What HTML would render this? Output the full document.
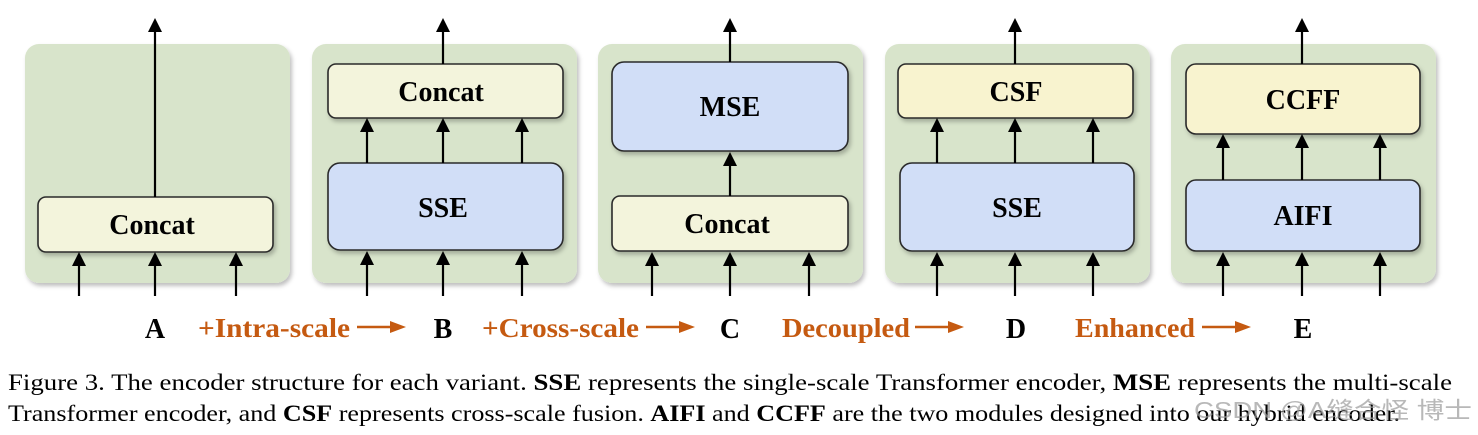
<!DOCTYPE html>
<html><head><meta charset="utf-8"><style>
html,body{margin:0;padding:0;background:#fff;width:1478px;height:435px;overflow:hidden}
svg{display:block}
.bt{font-family:"Liberation Serif",serif;font-weight:bold;font-size:28px;fill:#000;text-anchor:middle}
.or{font-family:"Liberation Serif",serif;font-weight:bold;font-size:27px;fill:#c55a11}
.cap{font-family:"Liberation Serif",serif;font-size:23px;fill:#000}
</style></head><body>
<svg width="1478" height="435" viewBox="0 0 1478 435" xmlns="http://www.w3.org/2000/svg">
<defs>
<filter id="sh" x="-10%" y="-10%" width="120%" height="120%"><feDropShadow dx="2" dy="3" stdDeviation="2" flood-color="#000" flood-opacity="0.25"/></filter>
</defs>
<g fill="#d8e4cb" filter="url(#sh)">
<rect x="25" y="44" width="265" height="239" rx="14"/>
<rect x="312" y="44" width="265" height="239" rx="14"/>
<rect x="598" y="44" width="265" height="239" rx="14"/>
<rect x="885" y="44" width="265" height="239" rx="14"/>
<rect x="1171" y="44" width="265" height="239" rx="14"/>
</g>
<g stroke="#2a2a2a" stroke-width="1.6" filter="url(#sh)">
<rect x="38" y="197" width="235" height="55" rx="8" fill="#f3f4dc"/>
<rect x="328" y="64" width="235" height="54" rx="8" fill="#f3f4dc"/>
<rect x="328" y="163" width="235" height="87" rx="12" fill="#d1def7"/>
<rect x="612" y="62" width="236" height="89" rx="12" fill="#d1def7"/>
<rect x="612" y="196" width="236" height="55" rx="8" fill="#f3f4dc"/>
<rect x="898" y="64" width="235" height="54" rx="8" fill="#f8f3cf"/>
<rect x="900" y="163" width="234" height="88" rx="12" fill="#d1def7"/>
<rect x="1186" y="64" width="234" height="70" rx="10" fill="#f8f3cf"/>
<rect x="1186" y="180" width="234" height="71" rx="10" fill="#d1def7"/>
</g>
<g stroke="#000" stroke-width="2.2">
<line x1="155" y1="197" x2="155" y2="30"/>
<line x1="79" y1="296" x2="79" y2="264"/><line x1="155" y1="296" x2="155" y2="264"/><line x1="236" y1="296" x2="236" y2="264"/>
<line x1="443" y1="64" x2="443" y2="30"/>
<line x1="367" y1="163" x2="367" y2="130"/><line x1="443" y1="163" x2="443" y2="130"/><line x1="522" y1="163" x2="522" y2="130"/>
<line x1="367" y1="296" x2="367" y2="263"/><line x1="443" y1="296" x2="443" y2="263"/><line x1="522" y1="296" x2="522" y2="263"/>
<line x1="730" y1="62" x2="730" y2="30"/>
<line x1="730" y1="196" x2="730" y2="164"/>
<line x1="652" y1="296" x2="652" y2="264"/><line x1="730" y1="296" x2="730" y2="264"/><line x1="809" y1="296" x2="809" y2="264"/>
<line x1="1015" y1="64" x2="1015" y2="30"/>
<line x1="937" y1="163" x2="937" y2="130"/><line x1="1015" y1="163" x2="1015" y2="130"/><line x1="1093" y1="163" x2="1093" y2="130"/>
<line x1="937" y1="296" x2="937" y2="264"/><line x1="1015" y1="296" x2="1015" y2="264"/><line x1="1093" y1="296" x2="1093" y2="264"/>
<line x1="1302" y1="64" x2="1302" y2="30"/>
<line x1="1223" y1="180" x2="1223" y2="146"/><line x1="1302" y1="180" x2="1302" y2="146"/><line x1="1380" y1="180" x2="1380" y2="146"/>
<line x1="1223" y1="296" x2="1223" y2="264"/><line x1="1302" y1="296" x2="1302" y2="264"/><line x1="1380" y1="296" x2="1380" y2="264"/>
</g>
<g fill="#000">
<path d="M155,18 l-7,14 h14z"/>
<path d="M79,252 l-7,14 h14z M155,252 l-7,14 h14z M236,252 l-7,14 h14z"/>
<path d="M443,18 l-7,14 h14z"/>
<path d="M367,118 l-7,14 h14z M443,118 l-7,14 h14z M522,118 l-7,14 h14z"/>
<path d="M367,251 l-7,14 h14z M443,251 l-7,14 h14z M522,251 l-7,14 h14z"/>
<path d="M730,18 l-7,14 h14z M730,152 l-7,14 h14z"/>
<path d="M652,252 l-7,14 h14z M730,252 l-7,14 h14z M809,252 l-7,14 h14z"/>
<path d="M1015,18 l-7,14 h14z"/>
<path d="M937,118 l-7,14 h14z M1015,118 l-7,14 h14z M1093,118 l-7,14 h14z"/>
<path d="M937,252 l-7,14 h14z M1015,252 l-7,14 h14z M1093,252 l-7,14 h14z"/>
<path d="M1302,18 l-7,14 h14z"/>
<path d="M1223,134 l-7,14 h14z M1302,134 l-7,14 h14z M1380,134 l-7,14 h14z"/>
<path d="M1223,252 l-7,14 h14z M1302,252 l-7,14 h14z M1380,252 l-7,14 h14z"/>
</g>
<text class="bt" x="152" y="234">Concat</text>
<text class="bt" x="441" y="101">Concat</text>
<text class="bt" x="443" y="217">SSE</text>
<text class="bt" x="730" y="116">MSE</text>
<text class="bt" x="727" y="233">Concat</text>
<text class="bt" x="1016" y="101">CSF</text>
<text class="bt" x="1017" y="217">SSE</text>
<text class="bt" x="1303" y="109">CCFF</text>
<text class="bt" x="1303" y="225">AIFI</text>
<g class="bt" style="font-size:28px">
<text x="155" y="338">A</text><text x="443" y="338">B</text><text x="730" y="338">C</text><text x="1016" y="338">D</text><text x="1303" y="338">E</text>
</g>
<text class="or" x="198" y="337" textLength="152" lengthAdjust="spacingAndGlyphs">+Intra-scale</text>
<text class="or" x="482" y="337" textLength="157" lengthAdjust="spacingAndGlyphs">+Cross-scale</text>
<text class="or" x="782" y="337" textLength="128" lengthAdjust="spacingAndGlyphs">Decoupled</text>
<text class="or" x="1075" y="337" textLength="120" lengthAdjust="spacingAndGlyphs">Enhanced</text>
<g stroke="#c55a11" stroke-width="2.5">
<line x1="357" y1="327" x2="392" y2="327"/>
<line x1="646" y1="327" x2="681" y2="327"/>
<line x1="915" y1="327" x2="950" y2="327"/>
<line x1="1202" y1="327" x2="1237" y2="327"/>
</g>
<g fill="#c55a11">
<path d="M406,327 l-16,-6 v12z M695,327 l-16,-6 v12z M964,327 l-16,-6 v12z M1251,327 l-16,-6 v12z"/>
</g>
<text class="cap" x="8" y="390" textLength="1444" lengthAdjust="spacingAndGlyphs">Figure 3. The encoder structure for each variant. <tspan font-weight="bold">SSE</tspan> represents the single-scale Transformer encoder, <tspan font-weight="bold">MSE</tspan> represents the multi-scale</text>
<text class="cap" x="8" y="421" textLength="1392" lengthAdjust="spacingAndGlyphs">Transformer encoder, and <tspan font-weight="bold">CSF</tspan> represents cross-scale fusion. <tspan font-weight="bold">AIFI</tspan> and <tspan font-weight="bold">CCFF</tspan> are the two modules designed into our hybrid encoder.</text>
<text x="1194" y="418" font-family="'Liberation Sans','Noto Sans CJK SC',sans-serif" font-size="23" fill="#9a9a9a" fill-opacity="0.7" textLength="278" lengthAdjust="spacingAndGlyphs">CSDN @A缝合怪 博士</text>
</svg>
</body></html>
